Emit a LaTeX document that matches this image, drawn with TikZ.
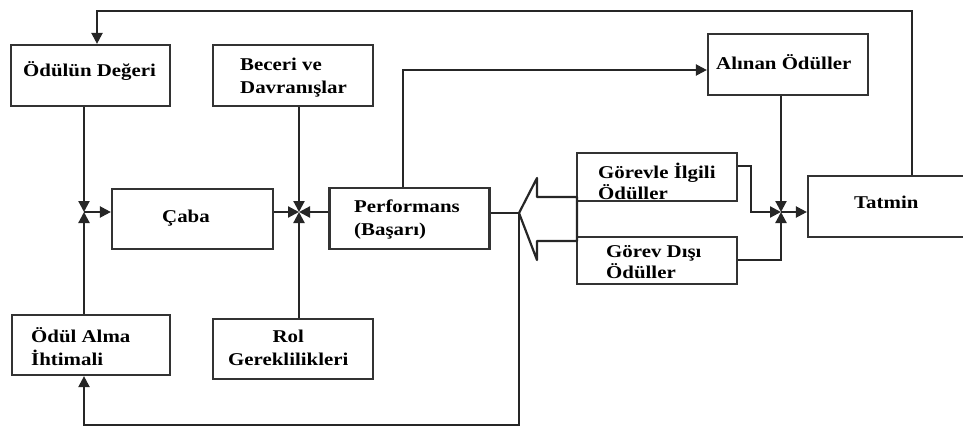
\documentclass[tikz,border=0pt]{standalone}
\usepackage{fontspec}
\setmainfont{Liberation Serif}[FakeStretch=1.16]
\usetikzlibrary{arrows.meta}
\begin{document}
\begin{tikzpicture}[x=1pt,y=-1pt,
  box/.style={draw=black!80, line width=2.2pt, inner sep=0pt},
  lbl/.style={inner sep=0pt, font=\fontsize{18}{23}\selectfont\bfseries, align=left},
  lbs/.style={inner sep=0pt, font=\fontsize{18}{21}\selectfont\bfseries, align=left},
  ln/.style={line width=2.2pt, draw=black!85},
  arr/.style={ln, -{Triangle[length=11pt,width=11pt]}}]
\useasboundingbox (0,0) rectangle (963,428);
% boxes
\node[box, minimum width=159pt, minimum height=61pt] (odv) at (90.5,75.5) {};
\node[box, minimum width=160pt, minimum height=61pt] (bec) at (293,75.5) {};
\node[box, minimum width=161pt, minimum height=60pt] (caba) at (192.5,219) {};
\node[box, minimum width=160pt, minimum height=61pt] (perf) at (409.5,218.5) {};
\node[box, minimum width=158pt, minimum height=60pt] (oam) at (91,345) {};
\node[box, minimum width=160pt, minimum height=60pt] (rol) at (293,349) {};
\node[box, minimum width=160pt, minimum height=61pt] (aln) at (788,64.5) {};
\node[box, minimum width=160pt, minimum height=48pt] (gil) at (657,177) {};
\node[box, minimum width=160pt, minimum height=47pt] (gdi) at (657,260.5) {};
\node[box, minimum width=162pt, minimum height=61pt] (tat) at (889,206.5) {};
% labels
\node[lbl, anchor=base west] (odvt) at (23,77) {Ödülün Değeri};
\node[lbl, anchor=west] (bect) at (240,78) {Beceri ve\\Davranışlar};
\node[lbl, anchor=base west] (cabat) at (162,222) {Çaba};
\node[lbl, anchor=west] (perft) at (354,220) {Performans\\(Başarı)};
\node[lbl, anchor=west] (oamt) at (31,347) {Ödül Alma\\İhtimali};
\node[lbl, anchor=west, align=center] (rolt) at (228,348) {Rol\\Gereklilikleri};
\node[lbl, anchor=base west] (alnt) at (716,70) {Alınan Ödüller};
\node[lbs, anchor=west] (gilt) at (598,181) {Görevle İlgili\\Ödüller};
\node[lbs, anchor=west] (gdit) at (606,262) {Görev Dışı\\Ödüller};
\node[lbl, anchor=base west] (tatt) at (854,208) {Tatmin};
% junctions and corners
\coordinate (j1) at (84,212);
\coordinate (j2) at (299,212);
\coordinate (j3) at (781,212);
\coordinate (fbR) at (912,11);
\coordinate (fbL) at (97,11);
\coordinate (pt) at (403,70);
\coordinate (g1) at (751,166);
\coordinate (g2) at (781,260);
\coordinate (tip) at (519,213);
\coordinate (b1) at (519,425);
\coordinate (b2) at (84,425);
% block arrow
\draw[ln, line join=round] (577,197) -- (537,197) -- (537,178) -- (tip) -- (537,260) -- (537,241) -- (577,241) -- cycle;
% connectors
\draw[arr] (tat.north -| fbR) -- (fbR) -- (fbL) -- (odv.north -| fbL);
\draw[arr] (odv.south -| j1) -- (j1);
\draw[arr] (oam.north -| j1) -- (j1);
\draw[arr] (j1) -- (caba.west |- j1);
\draw[arr] (bec.south -| j2) -- (j2);
\draw[arr] (rol.north -| j2) -- (j2);
\draw[arr] (caba.east |- j2) -- (j2);
\draw[arr] (perf.west |- j2) -- (j2);
\draw[arr] (perf.north -| pt) -- (pt) -- (aln.west |- pt);
\draw[arr] (aln.south -| j3) -- (j3);
\draw[arr] (gil.east |- g1) -- (g1) |- (j3);
\draw[arr] (gdi.east |- g2) -| (j3);
\draw[arr] (j3) -- (tat.west |- j3);
\draw[ln] (perf.east |- tip) -- (tip);
\draw[arr] (tip) -- (b1) -- (b2) -- (oam.south -| b2);
\end{tikzpicture}
\end{document}
